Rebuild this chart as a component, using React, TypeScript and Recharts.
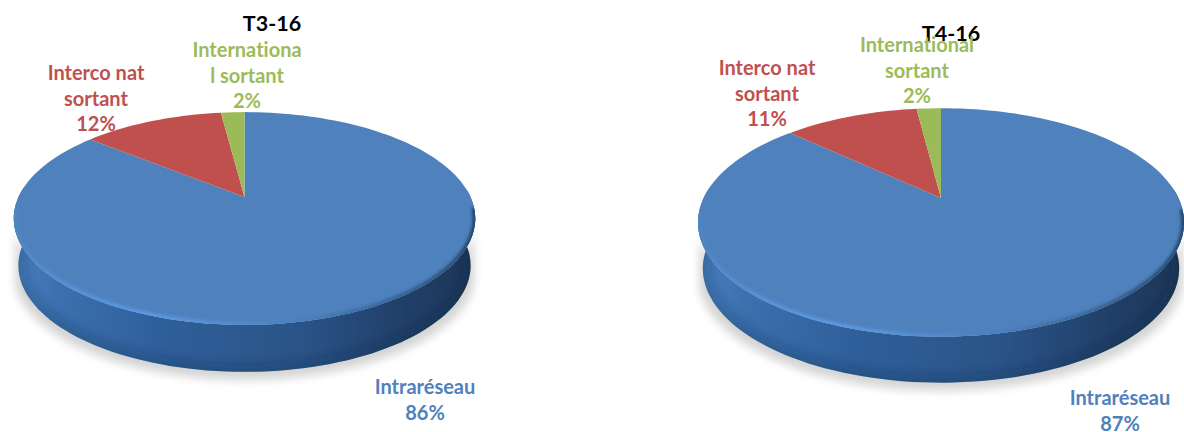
import { Pie, PieChart } from 'recharts'

const categories = ['Intraréseau', 'Interco nat sortant', 'International sortant']
const colors = ['#4f81bd', '#c0504d', '#9bbb59']
const t3Values = [86, 12, 2]
const t4Values = [87, 11, 2]
const t3Lines = [['Intraréseau'], ['Interco nat', 'sortant'], ['Internationa', 'l sortant']]
const t4Lines = [['Intraréseau'], ['Interco nat', 'sortant'], ['International', 'sortant']]

// tilted disc: a projective map of the unit circle, so the apex sits above the ellipse centre
const t3View = {
  id: 't3', title: 'T3-16', titleX: 272, titleY: 31, cx: 244.5, cy: 197, a: 226, b: 102, k: 0.202, depth: 47,
  labels: [[425, 394], [96, 80], [247, 57]],
}
const t4View = {
  id: 't4', title: 'T4-16', titleX: 951, titleY: 41, cx: 941, cy: 198, a: 237.4, b: 109, k: 0.214, depth: 46,
  labels: [[1120, 405], [767, 75], [917, 52]],
}
type View = typeof t3View
type Pt = { x: number; y: number; v: number }

const FONT = 'Lato, sans-serif'

function project(view: View, deg: number) {
  const u = Math.cos((deg * Math.PI) / 180)
  const v = Math.sin((deg * Math.PI) / 180)
  const w = 1 + view.k * v
  return { x: (view.a * u) / w, y: (-view.b * v) / w, v }
}

function arcPoints(view: View, start: number, end: number): Pt[] {
  const steps = Math.max(2, Math.ceil(Math.abs(end - start) / 2))
  const pts = []
  for (let i = 0; i <= steps; i++) {
    const p = project(view, start + ((end - start) * i) / steps)
    pts.push({ x: view.cx + p.x, y: view.cy + p.y, v: p.v })
  }
  return pts
}

const toPath = (pts: { x: number; y: number }[]) =>
  pts.map((p, i) => `${i ? 'L' : 'M'}${p.x.toFixed(1)} ${p.y.toFixed(1)}`).join(' ')

function lowerEdge(view: View, pts: Pt[], offset = 0, spread = 0.98) {
  return pts.map((p) => ({
    x: view.cx + (p.x - view.cx) * spread,
    y: p.y + view.depth + offset,
    v: p.v,
  }))
}

// wall swept between the two rims, near side only (the far side sits behind the top face)
function sweep(top: Pt[], low: Pt[], limit = 0.1) {
  const parts: string[] = []
  for (let i = 0; i < top.length - 1; i++) {
    if (top[i].v > limit || top[i + 1].v > limit) continue
    parts.push(`${toPath([top[i], top[i + 1], low[i + 1], low[i]])} Z`)
  }
  return parts.join(' ')
}

function wallShape(view: View) {
  return (props: any) => {
    const top = arcPoints(view, props.startAngle, props.endAngle)
    const low = lowerEdge(view, top)
    const shadow = lowerEdge(view, top, 8, 1)
    const wall = sweep(top, low)
    if (!wall) return <g />
    const clipId = `${view.id}-clip-${props.index ?? 0}`
    return (
      <g>
        <path d={sweep(top, shadow, -0.3)} fill="#000" opacity={0.17} filter={`url(#${view.id}-blur)`} />
        <clipPath id={clipId}>
          <path d={wall} />
        </clipPath>
        <path d={wall} fill={`url(#${view.id}-wall)`} />
        <g clipPath={`url(#${clipId})`}>
          <path d={toPath(low)} fill="none" stroke="#10233c" strokeOpacity={0.25} strokeWidth={14} filter={`url(#${view.id}-shade)`} />
        </g>
      </g>
    )
  }
}

function topShape(view: View) {
  return (props: any) => {
    const arc = arcPoints(view, props.startAngle, props.endAngle)
    const near = arc.filter((p) => p.v < -0.1)
    const face = `M${view.cx} ${view.cy} ${toPath(arc).replace('M', 'L')} Z`
    const clipId = `${view.id}-face-${props.index ?? 0}`
    return (
      <g>
        <path d={face} fill={props.fill} />
        <clipPath id={clipId}>
          <path d={face} />
        </clipPath>
        {near.length > 1 && (
          <g clipPath={`url(#${clipId})`}>
            <path d={toPath(near)} fill="none" stroke={`url(#${view.id}-rim)`} strokeWidth={6} filter={`url(#${view.id}-soft)`} />
          </g>
        )}
      </g>
    )
  }
}

function sliceLabel(view: View, lines: string[][]) {
  return (props: any) => {
    const i = props.index
    const [x, y] = view.labels[i]
    const rows = [...lines[i], `${props.value}%`]
    return (
      <text
        x={x}
        y={y}
        textAnchor="middle"
        fill={colors[i]}
        fontFamily={FONT}
        fontWeight={700}
        fontSize={20}
        style={{ fontVariantLigatures: 'none' }}
      >
        {rows.map((row, r) => (
          <tspan key={row} x={x} y={y + r * 25.5}>{row}</tspan>
        ))}
      </text>
    )
  }
}

function Gradients({ id }: { id: string }) {
  return (
    <defs>
      <linearGradient id={`${id}-wall`} x1="0" y1="0" x2="1" y2="0">
        <stop offset="0%" stopColor="#4a80c0" />
        <stop offset="10%" stopColor="#3b70ae" />
        <stop offset="32%" stopColor="#2f5f9a" />
        <stop offset="62%" stopColor="#2a5488" />
        <stop offset="85%" stopColor="#203f68" />
        <stop offset="100%" stopColor="#1c3656" />
      </linearGradient>
      <linearGradient id={`${id}-rim`} x1="0" y1="0" x2="1" y2="0">
        <stop offset="0%" stopColor="#4f85c4" />
        <stop offset="12%" stopColor="#5793da" />
        <stop offset="32%" stopColor="#5c9ae2" />
        <stop offset="62%" stopColor="#4a7fbd" />
        <stop offset="85%" stopColor="#34618f" />
        <stop offset="100%" stopColor="#24466c" />
      </linearGradient>
      <filter id={`${id}-blur`} x="-10%" y="-20%" width="120%" height="140%">
        <feGaussianBlur stdDeviation="5" />
      </filter>
      <filter id={`${id}-soft`} x="-5%" y="-5%" width="110%" height="110%">
        <feGaussianBlur stdDeviation="1.5" />
      </filter>
      <filter id={`${id}-shade`} x="-5%" y="-10%" width="110%" height="120%">
        <feGaussianBlur stdDeviation="6" />
      </filter>
    </defs>
  )
}

const toRows = (values: number[]) => values.map((value, i) => ({ name: categories[i], value, fill: colors[i] }))

export default function App() {
  const views = [
    { view: t3View, rows: toRows(t3Values), lines: t3Lines },
    { view: t4View, rows: toRows(t4Values), lines: t4Lines },
  ]
  return (
    <div style={{ position: 'absolute', left: 0, top: 0, width: 1184, height: 432, overflow: 'hidden', background: '#fff' }}>
      <PieChart width={1184} height={432} margin={{ top: 0, right: 0, bottom: 0, left: 0 }}>
        <Gradients id="t3" />
        <Gradients id="t4" />
        {views.map(({ view }) => (
          <text key={view.id} x={view.titleX} y={view.titleY} textAnchor="middle" fontFamily={FONT} fontWeight={700} fontSize={21.5} fill="#000">
            {view.title}
          </text>
        ))}
        {views.map(({ view, rows }) => (
          <Pie
            key={`${view.id}-wall`}
            data={rows}
            dataKey="value"
            nameKey="name"
            cx={view.cx}
            cy={view.cy}
            outerRadius={100}
            startAngle={90}
            endAngle={-270}
            stroke="none"
            shape={wallShape(view)}
            isAnimationActive={false}
          />
        ))}
        {views.map(({ view, rows, lines }) => (
          <Pie
            key={`${view.id}-top`}
            data={rows}
            dataKey="value"
            nameKey="name"
            cx={view.cx}
            cy={view.cy}
            outerRadius={100}
            startAngle={90}
            endAngle={-270}
            stroke="none"
            shape={topShape(view)}
            label={sliceLabel(view, lines)}
            labelLine={false}
            isAnimationActive={false}
          />
        ))}
      </PieChart>
    </div>
  )
}
